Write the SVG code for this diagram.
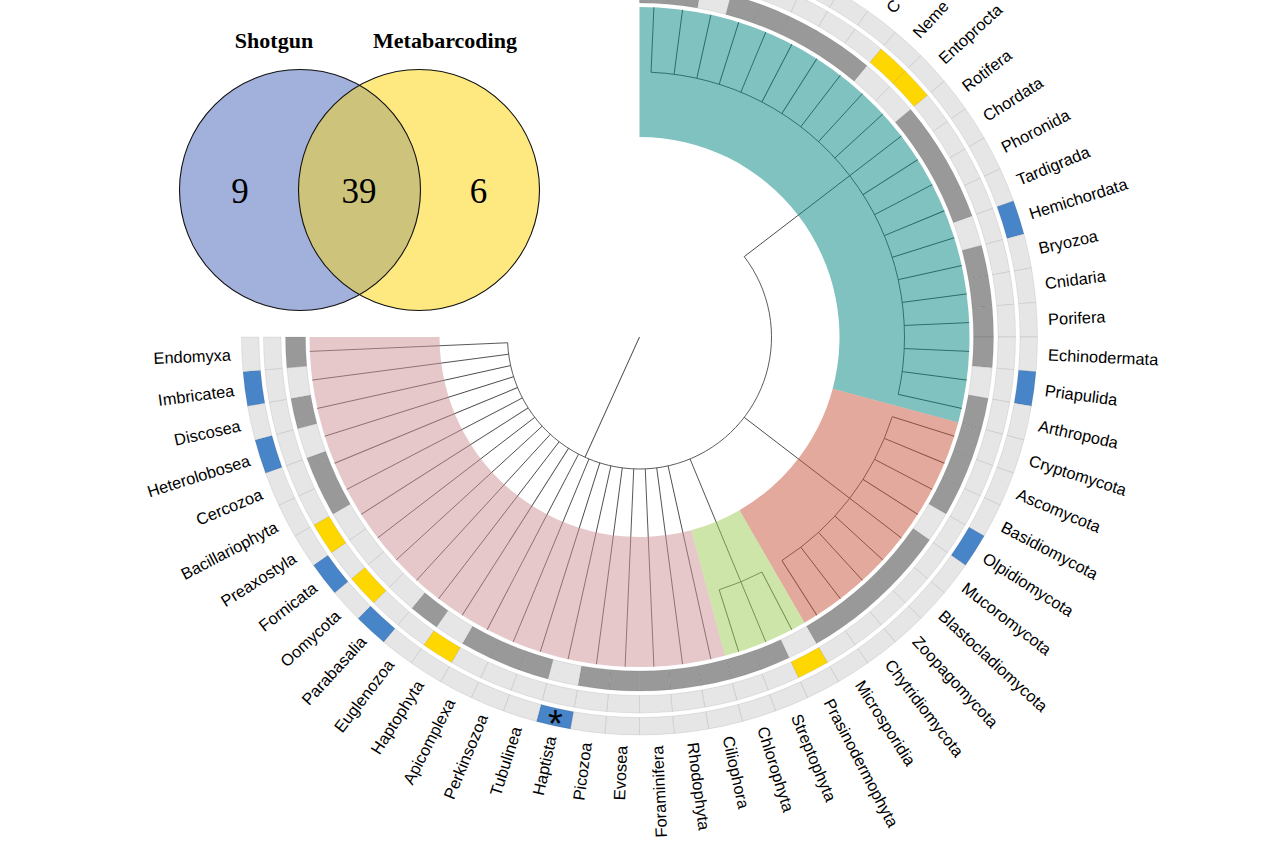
<svg xmlns="http://www.w3.org/2000/svg" xmlns:xlink="http://www.w3.org/1999/xlink" width="1280" height="848" viewBox="0 0 1280 848">
<defs>
<style>
.lbl{font-family:"Liberation Sans",Arial,Helvetica,sans-serif;font-size:16.4px;fill:#000}
.flip{text-anchor:end}
.br{stroke:#4a4a4a;stroke-width:0.9;fill:none}
.cell{stroke:#000;stroke-opacity:.11;stroke-width:.7}
.L{fill:#e6e6e6}.D{fill:#999999}.Y{fill:#ffd700}.B{fill:#4884c8}
.hl{opacity:.5}
.vt{font-family:"Liberation Serif","Times New Roman",serif;font-weight:bold;font-size:22px;text-anchor:middle;fill:#000}
.vn{font-family:"Liberation Serif","Times New Roman",serif;font-size:35px;text-anchor:middle;fill:#000}
</style>
<path id="c1" d="M333.68,-14.57 L353.66,-15.44 A354,354 0 0 1 353.66,15.44 L333.68,14.57 A334,334 0 0 0 333.68,-14.57 Z"/>
<path id="c2" d="M358.16,-15.64 L375.64,-16.40 A376,376 0 0 1 375.64,16.40 L358.16,15.64 A358.5,358.5 0 0 0 358.16,-15.64 Z"/>
<path id="c3" d="M380.14,-16.60 L397.62,-17.36 A398,398 0 0 1 397.62,17.36 L380.14,16.60 A380.5,380.5 0 0 0 380.14,-16.60 Z"/>
</defs>
<rect width="1280" height="848" fill="#fff"/>

<g id="venn">
<g id="venn-shotgun"><circle cx="300" cy="190" r="120.5" fill="#a2b1dc"/></g>
<g id="venn-metabarcoding"><circle cx="419" cy="190" r="120.5" fill="#fee981"/></g>
<g id="venn-both"><path d="M359.5,85.21 A120.5,120.5 0 0 1 359.5,294.79 A120.5,120.5 0 0 1 359.5,85.21 Z" fill="#cdc37b"/></g>
<circle cx="300" cy="190" r="120.5" fill="none" stroke="#111" stroke-width="1.1"/>
<circle cx="419" cy="190" r="120.5" fill="none" stroke="#111" stroke-width="1.1"/>
<text class="vt" x="274" y="48">Shotgun</text>
<text class="vt" x="445" y="48">Metabarcoding</text>
<text class="vn" x="240" y="203">9</text>
<text class="vn" x="359" y="203">39</text>
<text class="vn" x="478.5" y="203">6</text>
</g>

<g id="tree" transform="translate(639.5,337)">
<g id="connectors" class="br">
<line x1="0" y1="0" x2="132" y2="0" transform="rotate(114.375)"/>
<path d="M104.72,-80.36 A132,132 0 1 1 -131.87,5.76"/>
<line x1="132" y1="0" x2="265" y2="0" transform="rotate(-37.5)"/>
<line x1="132" y1="0" x2="265" y2="0" transform="rotate(37.5)"/>
<path d="M11.56,-264.75 A265,265 0 0 1 258.72,57.36"/>
<path d="M252.74,79.69 A265,265 0 0 1 142.38,223.50"/>
<path d="M122.36,235.06 A265,265 0 0 1 79.69,252.74"/>
<line x1="265" x2="330" transform="rotate(-87.5)"/>
<line x1="265" x2="330" transform="rotate(-82.5)"/>
<line x1="265" x2="330" transform="rotate(-77.5)"/>
<line x1="265" x2="330" transform="rotate(-72.5)"/>
<line x1="265" x2="330" transform="rotate(-67.5)"/>
<line x1="265" x2="330" transform="rotate(-62.5)"/>
<line x1="265" x2="330" transform="rotate(-57.5)"/>
<line x1="265" x2="330" transform="rotate(-52.5)"/>
<line x1="265" x2="330" transform="rotate(-47.5)"/>
<line x1="265" x2="330" transform="rotate(-42.5)"/>
<line x1="265" x2="330" transform="rotate(-37.5)"/>
<line x1="265" x2="330" transform="rotate(-32.5)"/>
<line x1="265" x2="330" transform="rotate(-27.5)"/>
<line x1="265" x2="330" transform="rotate(-22.5)"/>
<line x1="265" x2="330" transform="rotate(-17.5)"/>
<line x1="265" x2="330" transform="rotate(-12.5)"/>
<line x1="265" x2="330" transform="rotate(-7.5)"/>
<line x1="265" x2="330" transform="rotate(-2.5)"/>
<line x1="265" x2="330" transform="rotate(2.5)"/>
<line x1="265" x2="330" transform="rotate(7.5)"/>
<line x1="265" x2="330" transform="rotate(12.5)"/>
<line x1="265" x2="330" transform="rotate(17.5)"/>
<line x1="265" x2="330" transform="rotate(22.5)"/>
<line x1="265" x2="330" transform="rotate(27.5)"/>
<line x1="265" x2="330" transform="rotate(32.5)"/>
<line x1="265" x2="330" transform="rotate(37.5)"/>
<line x1="265" x2="330" transform="rotate(42.5)"/>
<line x1="265" x2="330" transform="rotate(47.5)"/>
<line x1="265" x2="330" transform="rotate(52.5)"/>
<line x1="265" x2="330" transform="rotate(57.5)"/>
<line x1="265" x2="330" transform="rotate(62.5)"/>
<line x1="132" x2="330" transform="rotate(67.5)"/>
<line x1="265" x2="330" transform="rotate(72.5)"/>
<line x1="132" x2="330" transform="rotate(77.5)"/>
<line x1="132" x2="330" transform="rotate(82.5)"/>
<line x1="132" x2="330" transform="rotate(87.5)"/>
<line x1="132" x2="330" transform="rotate(92.5)"/>
<line x1="132" x2="330" transform="rotate(97.5)"/>
<line x1="132" x2="330" transform="rotate(102.5)"/>
<line x1="132" x2="330" transform="rotate(107.5)"/>
<line x1="132" x2="330" transform="rotate(112.5)"/>
<line x1="132" x2="330" transform="rotate(117.5)"/>
<line x1="132" x2="330" transform="rotate(122.5)"/>
<line x1="132" x2="330" transform="rotate(127.5)"/>
<line x1="132" x2="330" transform="rotate(132.5)"/>
<line x1="132" x2="330" transform="rotate(137.5)"/>
<line x1="132" x2="330" transform="rotate(142.5)"/>
<line x1="132" x2="330" transform="rotate(147.5)"/>
<line x1="132" x2="330" transform="rotate(152.5)"/>
<line x1="132" x2="330" transform="rotate(157.5)"/>
<line x1="132" x2="330" transform="rotate(162.5)"/>
<line x1="132" x2="330" transform="rotate(167.5)"/>
<line x1="132" x2="330" transform="rotate(172.5)"/>
<line x1="132" x2="330" transform="rotate(177.5)"/>
</g>

<g id="clade-highlights">
<path id="hl-animals" class="hl" fill="#00857f" d="M0,-330 A330,330 0 0 1 318.76,85.41 L193.19,51.76 A200,200 0 0 0 0,-200 Z"/>
<path id="hl-fungi" class="hl" fill="#c9533b" d="M318.76,85.41 A330,330 0 0 1 165,285.79 L100,173.21 A200,200 0 0 0 193.19,51.76 Z"/>
<path id="hl-plants" class="hl" fill="#9bcb53" d="M165,285.79 A330,330 0 0 1 85.41,318.76 L51.76,193.19 A200,200 0 0 0 100,173.21 Z"/>
<path id="hl-protists" class="hl" fill="#cd9195" d="M85.41,318.76 A330,330 0 0 1 -330,0 L-200,0 A200,200 0 0 0 51.76,193.19 Z"/>
</g>

<g id="t00" transform="rotate(-87.5)"><use href="#c1" class="cell D"/><use href="#c2" class="cell L"/><use href="#c3" class="cell L"/></g>
<g id="t01" transform="rotate(-82.5)"><use href="#c1" class="cell D"/><use href="#c2" class="cell L"/><use href="#c3" class="cell L"/></g>
<g id="t02" transform="rotate(-77.5)"><use href="#c1" class="cell L"/><use href="#c2" class="cell L"/><use href="#c3" class="cell B"/></g>
<g id="t03" transform="rotate(-72.5)"><use href="#c1" class="cell D"/><use href="#c2" class="cell L"/><use href="#c3" class="cell L"/></g>
<g id="t04" transform="rotate(-67.5)"><use href="#c1" class="cell D"/><use href="#c2" class="cell L"/><use href="#c3" class="cell L"/></g>
<g id="t05" transform="rotate(-62.5)"><use href="#c1" class="cell D"/><use href="#c2" class="cell L"/><use href="#c3" class="cell L"/></g>
<g id="t06" transform="rotate(-57.5)"><use href="#c1" class="cell D"/><use href="#c2" class="cell L"/><use href="#c3" class="cell L"/></g>
<g id="t07" transform="rotate(-52.5)"><use href="#c1" class="cell D"/><use href="#c2" class="cell L"/><use href="#c3" class="cell L"/><text class="lbl" x="411" dy=".35em">C</text></g>
<g id="t08-Neme" transform="rotate(-47.5)"><use href="#c1" class="cell L"/><use href="#c2" class="cell Y"/><use href="#c3" class="cell L"/><text class="lbl" x="409" dy=".35em">Neme</text></g>
<g id="t09-Entoprocta" transform="rotate(-42.5)"><use href="#c1" class="cell L"/><use href="#c2" class="cell Y"/><use href="#c3" class="cell L"/><text class="lbl" x="409" dy=".35em">Entoprocta</text></g>
<g id="t10-Rotifera" transform="rotate(-37.5)"><use href="#c1" class="cell D"/><use href="#c2" class="cell L"/><use href="#c3" class="cell L"/><text class="lbl" x="409" dy=".35em">Rotifera</text></g>
<g id="t11-Chordata" transform="rotate(-32.5)"><use href="#c1" class="cell D"/><use href="#c2" class="cell L"/><use href="#c3" class="cell L"/><text class="lbl" x="409" dy=".35em">Chordata</text></g>
<g id="t12-Phoronida" transform="rotate(-27.5)"><use href="#c1" class="cell D"/><use href="#c2" class="cell L"/><use href="#c3" class="cell L"/><text class="lbl" x="409" dy=".35em">Phoronida</text></g>
<g id="t13-Tardigrada" transform="rotate(-22.5)"><use href="#c1" class="cell D"/><use href="#c2" class="cell L"/><use href="#c3" class="cell L"/><text class="lbl" x="409" dy=".35em">Tardigrada</text></g>
<g id="t14-Hemichordata" transform="rotate(-17.5)"><use href="#c1" class="cell L"/><use href="#c2" class="cell L"/><use href="#c3" class="cell B"/><text class="lbl" x="409" dy=".35em">Hemichordata</text></g>
<g id="t15-Bryozoa" transform="rotate(-12.5)"><use href="#c1" class="cell D"/><use href="#c2" class="cell L"/><use href="#c3" class="cell L"/><text class="lbl" x="409" dy=".35em">Bryozoa</text></g>
<g id="t16-Cnidaria" transform="rotate(-7.5)"><use href="#c1" class="cell D"/><use href="#c2" class="cell L"/><use href="#c3" class="cell L"/><text class="lbl" x="409" dy=".35em">Cnidaria</text></g>
<g id="t17-Porifera" transform="rotate(-2.5)"><use href="#c1" class="cell D"/><use href="#c2" class="cell L"/><use href="#c3" class="cell L"/><text class="lbl" x="409" dy=".35em">Porifera</text></g>
<g id="t18-Echinodermata" transform="rotate(2.5)"><use href="#c1" class="cell D"/><use href="#c2" class="cell L"/><use href="#c3" class="cell L"/><text class="lbl" x="409" dy=".35em">Echinodermata</text></g>
<g id="t19-Priapulida" transform="rotate(7.5)"><use href="#c1" class="cell L"/><use href="#c2" class="cell L"/><use href="#c3" class="cell B"/><text class="lbl" x="409" dy=".35em">Priapulida</text></g>
<g id="t20-Arthropoda" transform="rotate(12.5)"><use href="#c1" class="cell D"/><use href="#c2" class="cell L"/><use href="#c3" class="cell L"/><text class="lbl" x="409" dy=".35em">Arthropoda</text></g>
<g id="t21-Cryptomycota" transform="rotate(17.5)"><use href="#c1" class="cell D"/><use href="#c2" class="cell L"/><use href="#c3" class="cell L"/><text class="lbl" x="409" dy=".35em">Cryptomycota</text></g>
<g id="t22-Ascomycota" transform="rotate(22.5)"><use href="#c1" class="cell D"/><use href="#c2" class="cell L"/><use href="#c3" class="cell L"/><text class="lbl" x="409" dy=".35em">Ascomycota</text></g>
<g id="t23-Basidiomycota" transform="rotate(27.5)"><use href="#c1" class="cell D"/><use href="#c2" class="cell L"/><use href="#c3" class="cell L"/><text class="lbl" x="409" dy=".35em">Basidiomycota</text></g>
<g id="t24-Olpidiomycota" transform="rotate(32.5)"><use href="#c1" class="cell L"/><use href="#c2" class="cell L"/><use href="#c3" class="cell B"/><text class="lbl" x="409" dy=".35em">Olpidiomycota</text></g>
<g id="t25-Mucoromycota" transform="rotate(37.5)"><use href="#c1" class="cell D"/><use href="#c2" class="cell L"/><use href="#c3" class="cell L"/><text class="lbl" x="409" dy=".35em">Mucoromycota</text></g>
<g id="t26-Blastocladiomycota" transform="rotate(42.5)"><use href="#c1" class="cell D"/><use href="#c2" class="cell L"/><use href="#c3" class="cell L"/><text class="lbl" x="409" dy=".35em">Blastocladiomycota</text></g>
<g id="t27-Zoopagomycota" transform="rotate(47.5)"><use href="#c1" class="cell D"/><use href="#c2" class="cell L"/><use href="#c3" class="cell L"/><text class="lbl" x="409" dy=".35em">Zoopagomycota</text></g>
<g id="t28-Chytridiomycota" transform="rotate(52.5)"><use href="#c1" class="cell D"/><use href="#c2" class="cell L"/><use href="#c3" class="cell L"/><text class="lbl" x="409" dy=".35em">Chytridiomycota</text></g>
<g id="t29-Microsporidia" transform="rotate(57.5)"><use href="#c1" class="cell D"/><use href="#c2" class="cell L"/><use href="#c3" class="cell L"/><text class="lbl" x="409" dy=".35em">Microsporidia</text></g>
<g id="t30-Prasinodermophyta" transform="rotate(62.5)"><use href="#c1" class="cell L"/><use href="#c2" class="cell Y"/><use href="#c3" class="cell L"/><text class="lbl" x="409" dy=".35em">Prasinodermophyta</text></g>
<g id="t31-Streptophyta" transform="rotate(67.5)"><use href="#c1" class="cell D"/><use href="#c2" class="cell L"/><use href="#c3" class="cell L"/><text class="lbl" x="409" dy=".35em">Streptophyta</text></g>
<g id="t32-Chlorophyta" transform="rotate(72.5)"><use href="#c1" class="cell D"/><use href="#c2" class="cell L"/><use href="#c3" class="cell L"/><text class="lbl" x="409" dy=".35em">Chlorophyta</text></g>
<g id="t33-Ciliophora" transform="rotate(77.5)"><use href="#c1" class="cell D"/><use href="#c2" class="cell L"/><use href="#c3" class="cell L"/><text class="lbl" x="409" dy=".35em">Ciliophora</text></g>
<g id="t34-Rhodophyta" transform="rotate(82.5)"><use href="#c1" class="cell D"/><use href="#c2" class="cell L"/><use href="#c3" class="cell L"/><text class="lbl" x="409" dy=".35em">Rhodophyta</text></g>
<g id="t35-Foraminifera" transform="rotate(87.5)"><use href="#c1" class="cell D"/><use href="#c2" class="cell L"/><use href="#c3" class="cell L"/><text class="lbl flip" transform="translate(409,0) rotate(180)" dy=".35em">Foraminifera</text></g>
<g id="t36-Evosea" transform="rotate(92.5)"><use href="#c1" class="cell D"/><use href="#c2" class="cell L"/><use href="#c3" class="cell L"/><text class="lbl flip" transform="translate(409,0) rotate(180)" dy=".35em">Evosea</text></g>
<g id="t37-Picozoa" transform="rotate(97.5)"><use href="#c1" class="cell D"/><use href="#c2" class="cell L"/><use href="#c3" class="cell L"/><text class="lbl flip" transform="translate(409,0) rotate(180)" dy=".35em">Picozoa</text></g>
<g id="t38-Haptista" transform="rotate(102.5)"><use href="#c1" class="cell L"/><use href="#c2" class="cell L"/><use href="#c3" class="cell B"/><text class="lbl flip" transform="translate(409,0) rotate(180)" dy=".35em">Haptista</text><text transform="translate(389,0) rotate(-102.5)" text-anchor="middle" dy=".52em" style="font-family:'Liberation Sans',Arial,sans-serif;font-size:38px;fill:#000">*</text></g>
<g id="t39-Tubulinea" transform="rotate(107.5)"><use href="#c1" class="cell D"/><use href="#c2" class="cell L"/><use href="#c3" class="cell L"/><text class="lbl flip" transform="translate(409,0) rotate(180)" dy=".35em">Tubulinea</text></g>
<g id="t40-Perkinsozoa" transform="rotate(112.5)"><use href="#c1" class="cell D"/><use href="#c2" class="cell L"/><use href="#c3" class="cell L"/><text class="lbl flip" transform="translate(409,0) rotate(180)" dy=".35em">Perkinsozoa</text></g>
<g id="t41-Apicomplexa" transform="rotate(117.5)"><use href="#c1" class="cell D"/><use href="#c2" class="cell L"/><use href="#c3" class="cell L"/><text class="lbl flip" transform="translate(409,0) rotate(180)" dy=".35em">Apicomplexa</text></g>
<g id="t42-Haptophyta" transform="rotate(122.5)"><use href="#c1" class="cell L"/><use href="#c2" class="cell Y"/><use href="#c3" class="cell L"/><text class="lbl flip" transform="translate(409,0) rotate(180)" dy=".35em">Haptophyta</text></g>
<g id="t43-Euglenozoa" transform="rotate(127.5)"><use href="#c1" class="cell D"/><use href="#c2" class="cell L"/><use href="#c3" class="cell L"/><text class="lbl flip" transform="translate(409,0) rotate(180)" dy=".35em">Euglenozoa</text></g>
<g id="t44-Parabasalia" transform="rotate(132.5)"><use href="#c1" class="cell L"/><use href="#c2" class="cell L"/><use href="#c3" class="cell B"/><text class="lbl flip" transform="translate(409,0) rotate(180)" dy=".35em">Parabasalia</text></g>
<g id="t45-Oomycota" transform="rotate(137.5)"><use href="#c1" class="cell L"/><use href="#c2" class="cell Y"/><use href="#c3" class="cell L"/><text class="lbl flip" transform="translate(409,0) rotate(180)" dy=".35em">Oomycota</text></g>
<g id="t46-Fornicata" transform="rotate(142.5)"><use href="#c1" class="cell L"/><use href="#c2" class="cell L"/><use href="#c3" class="cell B"/><text class="lbl flip" transform="translate(409,0) rotate(180)" dy=".35em">Fornicata</text></g>
<g id="t47-Preaxostyla" transform="rotate(147.5)"><use href="#c1" class="cell L"/><use href="#c2" class="cell Y"/><use href="#c3" class="cell L"/><text class="lbl flip" transform="translate(409,0) rotate(180)" dy=".35em">Preaxostyla</text></g>
<g id="t48-Bacillariophyta" transform="rotate(152.5)"><use href="#c1" class="cell D"/><use href="#c2" class="cell L"/><use href="#c3" class="cell L"/><text class="lbl flip" transform="translate(409,0) rotate(180)" dy=".35em">Bacillariophyta</text></g>
<g id="t49-Cercozoa" transform="rotate(157.5)"><use href="#c1" class="cell D"/><use href="#c2" class="cell L"/><use href="#c3" class="cell L"/><text class="lbl flip" transform="translate(409,0) rotate(180)" dy=".35em">Cercozoa</text></g>
<g id="t50-Heterolobosea" transform="rotate(162.5)"><use href="#c1" class="cell L"/><use href="#c2" class="cell L"/><use href="#c3" class="cell B"/><text class="lbl flip" transform="translate(409,0) rotate(180)" dy=".35em">Heterolobosea</text></g>
<g id="t51-Discosea" transform="rotate(167.5)"><use href="#c1" class="cell D"/><use href="#c2" class="cell L"/><use href="#c3" class="cell L"/><text class="lbl flip" transform="translate(409,0) rotate(180)" dy=".35em">Discosea</text></g>
<g id="t52-Imbricatea" transform="rotate(172.5)"><use href="#c1" class="cell L"/><use href="#c2" class="cell L"/><use href="#c3" class="cell B"/><text class="lbl flip" transform="translate(409,0) rotate(180)" dy=".35em">Imbricatea</text></g>
<g id="t53-Endomyxa" transform="rotate(177.5)"><use href="#c1" class="cell D"/><use href="#c2" class="cell L"/><use href="#c3" class="cell L"/><text class="lbl flip" transform="translate(409,0) rotate(180)" dy=".35em">Endomyxa</text></g>
</g>
</svg>
